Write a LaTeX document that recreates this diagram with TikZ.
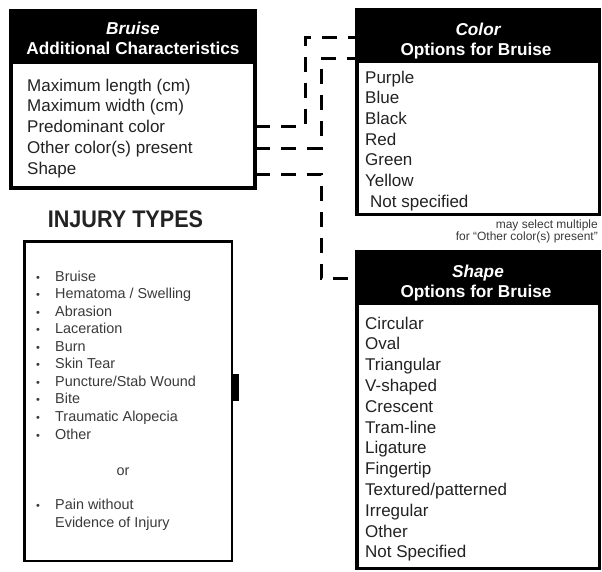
\documentclass[tikz,border=0pt]{standalone}
\usepackage{fontspec}
\usepackage{graphicx}
\setmainfont{Liberation Sans}
\definecolor{txt}{HTML}{222222}
\definecolor{ltxt}{HTML}{3A3A3A}
\begin{document}
\begin{tikzpicture}[x=1pt,y=-1pt,
  boxbody/.style={draw=black, fill=white, inner sep=0, outer sep=0, anchor=north west},
  hdrbar/.style={fill=black, inner sep=0, outer sep=0, anchor=north west},
  hdrtxt/.style={text=white, inner sep=0, anchor=base, font=\fontsize{17.2}{19}\selectfont\bfseries},
  item/.style={text=txt, inner sep=0, anchor=base west, font=\fontsize{17}{19}\selectfont},
  inj/.style={text=ltxt, inner sep=0, anchor=base west, font=\fontsize{14.4}{16}\selectfont},
  bul/.style={text=ltxt, inner sep=0, anchor=base, font=\fontsize{11}{12}\selectfont},
  note/.style={text=ltxt, inner sep=0, anchor=base east, font=\fontsize{12}{13}\selectfont},
  conn/.style={line width=3, dash pattern=on 15pt off 11pt, line join=miter}]
\useasboundingbox[fill=white] (0,0) rectangle (602,571);

% Bruise box
\node[boxbody, line width=4, minimum width=244, minimum height=177] (bb) at (11,11) {};
\node[hdrbar, minimum width=248, minimum height=55] (bh) at (9,9) {};
\node[hdrtxt, font=\fontsize{17.2}{19}\selectfont\bfseries\itshape] (bh1) at (133,34) {Bruise};
\node[hdrtxt] (bh2) at (133,54) {Additional Characteristics};
\foreach \t [count=\i] in {Maximum length (cm),Maximum width (cm),Predominant color,Other color(s) present,Shape}
  \node[item] (bt\i) at (27,{91+20.75*(\i-1)}) {\t};

% Color box
\node[boxbody, line width=3.5, minimum width=242.5, minimum height=204.5] (cb) at (356.75,9.75) {};
\node[hdrbar, minimum width=246, minimum height=55] (ch) at (355,8) {};
\node[hdrtxt, font=\fontsize{17.2}{19}\selectfont\bfseries\itshape] (ch1) at (478,35) {Color};
\node[hdrtxt] (ch2) at (476,55) {Options for Bruise};
\foreach \t [count=\i] in {Purple,Blue,Black,Red,Green,Yellow}
  \node[item] (ct\i) at (365,{83+20.67*(\i-1)}) {\t};
\node[item] (ct7) at (370,207) {Not specified};
\node[note] (n1) at (598,228) {may select multiple};
\node[note] (n2) at (598,240) {for “Other color(s) present”};

% Shape box
\node[boxbody, line width=3.5, minimum width=242.5, minimum height=316.5] (sb) at (356.75,251.75) {};
\node[hdrbar, minimum width=246, minimum height=55] (sh) at (355,250) {};
\node[hdrtxt, font=\fontsize{17.2}{19}\selectfont\bfseries\itshape] (sh1) at (478,277) {Shape};
\node[hdrtxt] (sh2) at (476,297) {Options for Bruise};
\foreach \t [count=\i] in {Circular,Oval,Triangular,V-shaped,Crescent,Tram-line,Ligature,Fingertip,Textured/patterned,Irregular,Other,Not Specified}
  \node[item] (st\i) at (365,{329+20.8*(\i-1)}) {\t};

% Injury types
\node[anchor=base, inner sep=0, font=\fontsize{24}{28}\selectfont\bfseries, text=txt] (title) at (125.5,227) {\scalebox{0.9}[1]{INJURY TYPES}};
\node[boxbody, line width=2.5, minimum width=207.5, minimum height=319.5] (ib) at (24.25,241.25) {};
\node[hdrbar, minimum width=8, minimum height=27] (tab) at (231,374) {};
\foreach \t [count=\i] in {Bruise,Hematoma / Swelling,Abrasion,Laceration,Burn,Skin Tear,Puncture/Stab Wound,Bite,Traumatic Alopecia,Other}{
  \node[bul] (ibu\i) at (38,{281+17.56*(\i-1)}) {•};
  \node[inj] (it\i) at (55,{281+17.56*(\i-1)}) {\t};
}
\node[inj, anchor=base] (ior) at (123,475) {or};
\node[bul] (ibu11) at (38,509) {•};
\node[inj] (it11) at (55,509) {Pain without};
\node[inj] (it12) at (55,527) {Evidence of Injury};

% connectors
\coordinate (c1a) at (305,126);
\coordinate (c1b) at (305,37);
\coordinate (c2a) at (321,148);
\coordinate (c2b) at (321,58);
\coordinate (c3a) at (321,174);
\coordinate (c3b) at (321,278);
\draw[conn] (bb.east |- c1a) -- (c1a) -- (c1b) -- (cb.west |- c1b);
\draw[conn] (bb.east |- c2a) -- (c2a) -- (c2b) -- (cb.west |- c2b);
\draw[conn] (bb.east |- c3a) -- (c3a) -- (c3b) -- (sb.west |- c3b);
\end{tikzpicture}
\end{document}
